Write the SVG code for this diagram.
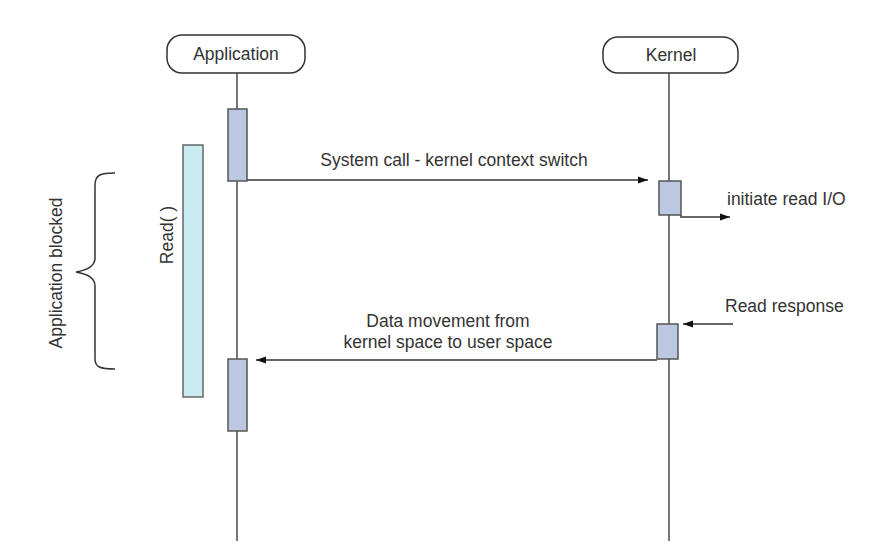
<svg xmlns="http://www.w3.org/2000/svg" width="885" height="552" viewBox="0 0 885 552">
<style>
text{font-family:"Liberation Sans",Arial,sans-serif;font-size:17.5px;fill:#333}
.hdr{fill:#fff;stroke:#333;stroke-width:1.5}
.life{stroke:#777;stroke-width:2;fill:none}
.act{fill:#bcc8e2;stroke:#555;stroke-width:1.5}
.read{fill:#c9ebf1;stroke:#666;stroke-width:1.5}
.msg{stroke:#666;stroke-width:2;fill:none}
</style>
<defs>
<marker id="ah" viewBox="0 0 10 10" refX="10" refY="5" markerWidth="10" markerHeight="10" markerUnits="userSpaceOnUse" orient="auto">
<path d="M0,1.5 L10,5 L0,8.5 Z" fill="#111"/>
</marker>
</defs>
<rect width="885" height="552" fill="#fff"/>
<g id="connectors">
<line class="life" x1="237" y1="73" x2="237" y2="541"/>
<line class="life" x1="669" y1="73" x2="669" y2="541"/>
<line class="msg" x1="247" y1="180" x2="648" y2="180" marker-end="url(#ah)"/>
<polyline class="msg" points="681,215 681,217 730,217" marker-end="url(#ah)"/>
<line class="msg" x1="733" y1="324" x2="683" y2="324" marker-end="url(#ah)"/>
<line class="msg" x1="657" y1="360" x2="256" y2="360" marker-end="url(#ah)"/>
</g>
<g id="application">
<rect class="hdr" x="167" y="35" width="138" height="38" rx="15"/>
<text x="236" y="60" text-anchor="middle">Application</text>
</g>
<g id="kernel">
<rect class="hdr" x="603" y="37" width="135" height="36" rx="15"/>
<text x="671" y="61" text-anchor="middle">Kernel</text>
</g>
<g id="read-bar">
<rect class="read" x="183" y="145" width="20" height="252"/>
<text transform="translate(173,235) rotate(-90)" text-anchor="middle">Read( )</text>
</g>
<g id="app-act1"><rect class="act" x="228" y="109" width="19" height="72"/></g>
<g id="app-act2"><rect class="act" x="228" y="359" width="19" height="72"/></g>
<g id="kern-act1"><rect class="act" x="659" y="181" width="22" height="34"/></g>
<g id="kern-act2"><rect class="act" x="657" y="324" width="21" height="35"/></g>
<g id="blocked">
<path d="M115,173 C100,173 95,175 95,185 L95,258 C95,266 88,270 76,272 C88,274 95,278 95,286 L95,359 C95,367 100,369 115,369" fill="none" stroke="#333" stroke-width="1.5"/>
<text transform="translate(62,273) rotate(-90)" text-anchor="middle">Application blocked</text>
</g>
<g id="labels">
<text x="454" y="166" text-anchor="middle">System call - kernel context switch</text>
<text x="727" y="205">initiate read I/O</text>
<text x="725" y="312">Read response</text>
<text x="448" y="327" text-anchor="middle">Data movement from</text>
<text x="448" y="348" text-anchor="middle">kernel space to user space</text>
</g>
</svg>
